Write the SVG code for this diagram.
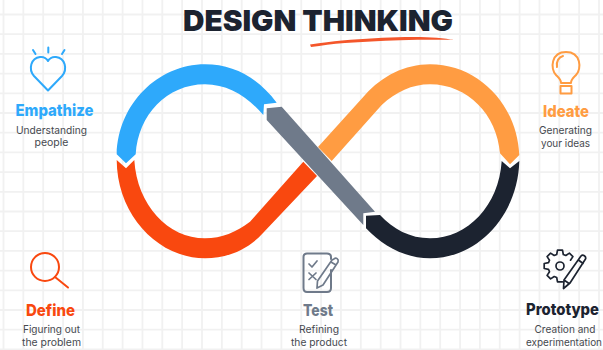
<svg xmlns="http://www.w3.org/2000/svg" width="603" height="350" viewBox="0 0 603 350">
<style>
.h{font-family:Inter,"Liberation Sans",sans-serif;font-weight:900;text-anchor:middle}
.l{font-family:Inter,"Liberation Sans",sans-serif;font-weight:800;font-size:16.500px;text-anchor:middle}
.s{font-family:Inter,"Liberation Sans",sans-serif;font-weight:400;font-size:10.500px;fill:#46494f;text-anchor:middle}
.i{fill:none;stroke-width:2;stroke-linecap:round;stroke-linejoin:round}
.t{fill:none;stroke-width:1.700;stroke-linecap:round;stroke-linejoin:round}
</style>
<rect width="603" height="350" fill="#fff"/>
<path id="grid" fill="none" stroke="#f1f1f1" stroke-width="1.800" d="M3.500 0V350M23.350 0V350M43.200 0V350M63.050 0V350M82.900 0V350M102.750 0V350M122.600 0V350M142.450 0V350M162.300 0V350M182.150 0V350M202 0V350M221.850 0V350M241.700 0V350M261.550 0V350M281.400 0V350M301.250 0V350M321.100 0V350M340.950 0V350M360.800 0V350M380.650 0V350M400.500 0V350M420.350 0V350M440.200 0V350M460.050 0V350M479.900 0V350M499.750 0V350M519.600 0V350M539.450 0V350M559.300 0V350M579.150 0V350M599 0V350M0 14.500H603M0 34.200H603M0 53.900H603M0 73.600H603M0 93.300H603M0 113H603M0 132.700H603M0 152.400H603M0 172.100H603M0 191.800H603M0 211.500H603M0 231.200H603M0 250.900H603M0 270.600H603M0 290.300H603M0 310H603M0 329.700H603M0 349.400H603"/>
<g id="title">
<text class="h" x="318" y="31" font-size="29" fill="#1c2330" textLength="270" lengthAdjust="spacingAndGlyphs">DESIGN THINKING</text>
<path d="M310 44.500C322 43 332 41 342 40.500C365 38.500 385 37.500 405 37C425 36.500 442 37.500 455 40C440 39.700 420 39.700 400 40.300C380 41 362 42 345 43C332 44 322 45.500 311 47Z" fill="#f4562a"/>
</g>
<g id="connectors">
<path id="seg-blue" fill="#2ea9fb" d="M116.700 154.300C118 104 158 64.300 205 64.300C234 64.300 258 78 276.700 102.700L264 104.300L263.300 115C248 97 228 84.300 205 84.300C167 84.300 138 115 135.700 154.300L126 163.300Z"/>
<path id="seg-red" fill="#f9480f" d="M116.700 160L126 168.300L134.300 160C137 205 168 238.300 205 238.300C222 238.300 236 232 250 221.700L303.300 161.700L317 176L263 233C248 250 226 258.300 205 258.300C158 258.300 117 215 116.700 160Z"/>
<path id="seg-orange" fill="#ff9c42" d="M318 147L365 95C382 76 405 64.300 430 64.300C478 64.300 517 104 519.300 155L510 164.300L500 153.300C497 115 468 84.300 430 84.300C412 84.300 396 92 381.700 105L331.700 161Z"/>
<path id="seg-dark" fill="#1c2330" d="M380 215C393 229 410 238.300 430 238.300C468 238.300 499 205 501.700 161L510 168.300L519.300 161C518 215 478 258.300 430 258.300C405 258.300 383 246 366 228.300L366 215.700Z"/>
<path id="seg-gray" fill="#6f7a8a" d="M266.700 108.300L281.700 106.700L375 211.700L363.300 213.300L363.300 225L266.700 120Z"/>
</g>
<g id="empathize">
<path class="i" stroke="#2ea9fb" d="M48 90.500L34 76C28 69 31 58 40 57C44 56.500 47 59 48 61C49 59 52 56.500 56 57C65 58 68 69 62 76Z"/>
<path class="i" stroke="#2ea9fb" d="M33 50L35.500 54M48.300 47.500V52.500M64.500 50L62 54"/>
<text class="l" x="54.500" y="116" fill="#2ea9fb" textLength="78" lengthAdjust="spacingAndGlyphs">Empathize</text>
<text class="s" x="51.500" y="133.500" textLength="71" lengthAdjust="spacingAndGlyphs">Understanding</text>
<text class="s" x="51.500" y="146">people</text>
</g>
<g id="ideate">
<path class="i" stroke="#ff9c42" d="M561 83C561 79 558 77 556 75C550 69 551 52 566 52C581 52 582 69 576 75C574 77 571 79 571 83Z"/>
<path class="i" stroke="#ff9c42" d="M557 67C556 61 559 57 563 56M560.500 86H571.500V93.500H560.500Z"/>
<text class="l" x="566" y="117" fill="#ff9c42" textLength="46" lengthAdjust="spacingAndGlyphs">Ideate</text>
<text class="s" x="565.500" y="134" textLength="53" lengthAdjust="spacingAndGlyphs">Generating</text>
<text class="s" x="565.500" y="146.500" textLength="49" lengthAdjust="spacingAndGlyphs">your ideas</text>
</g>
<g id="define">
<circle class="i" stroke="#f9480f" cx="45" cy="267" r="14"/>
<path class="i" stroke="#f9480f" d="M55 277L68 287.500"/>
<text class="l" x="50.500" y="316" fill="#f9480f" textLength="49" lengthAdjust="spacingAndGlyphs">Define</text>
<text class="s" x="51.500" y="333" textLength="57" lengthAdjust="spacingAndGlyphs">Figuring out</text>
<text class="s" x="51.500" y="345.500" textLength="59" lengthAdjust="spacingAndGlyphs">the problem</text>
</g>
<g id="test">
<path class="i" stroke="#6f7a8a" d="M331 270V288Q331 292 327 292H307Q303.500 292 303.500 288V257Q303.500 253.500 307 253.500H327Q331 253.500 331 257V259"/>
<path class="t" stroke="#6f7a8a" d="M309 264L312 267L317 261M309 273L316 279.500M316 273L309 279.500"/>
<path class="t" stroke="#6f7a8a" d="M334 259C336 257 339 259 338 262L323 285L317 288L317.500 281L332 260ZM331 262L336 265"/>
<text class="l" x="318" y="316" fill="#6f7a8a" textLength="30" lengthAdjust="spacingAndGlyphs">Test</text>
<text class="s" x="319" y="333" textLength="40" lengthAdjust="spacingAndGlyphs">Refining</text>
<text class="s" x="319" y="345.500" textLength="56" lengthAdjust="spacingAndGlyphs">the product</text>
</g>
<g id="prototype">
<path class="t" stroke="#1c2330" d="M570.500 260.200L572.900 256.600L569.400 253.100L565.800 255.500L563.300 254.500L562.500 250.200H557.500L556.700 254.500L554.200 255.500L550.600 253.100L547.100 256.600L549.500 260.200L548.500 262.700L544.200 263.500V268.500L548.500 269.300L549.500 271.800L547.100 275.400L550.600 278.900L554.200 276.500L556.700 277.500L557.500 281.800H562.500"/>
<circle class="t" stroke="#1c2330" cx="560" cy="266" r="4"/>
<path class="t" stroke="#1c2330" d="M581 256C583 254 586.500 256.500 585.500 259L570 283L563.500 288.500L564 280ZM578.500 260L583 263.500M564 280L569 283.500"/>
<text class="l" x="562.500" y="315" fill="#1c2330" font-size="15" style="font-size:15.500px" textLength="73" lengthAdjust="spacingAndGlyphs">Prototype</text>
<text class="s" x="565" y="333" textLength="61" lengthAdjust="spacingAndGlyphs">Creation and</text>
<text class="s" x="564" y="345.500" style="font-size:9.500px" textLength="76" lengthAdjust="spacingAndGlyphs">experimentation</text>
</g>
</svg>
